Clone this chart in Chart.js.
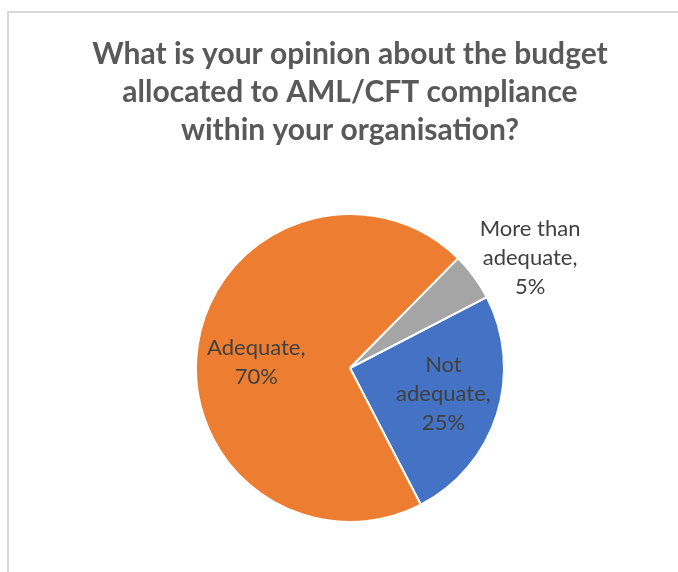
<!DOCTYPE html>
<html>
<head>
<meta charset="utf-8">
<script src="https://cdn.jsdelivr.net/npm/chart.js@4"></script>
<style>
  html, body { margin: 0; padding: 0; background: #fff; }
  #wrap { position: relative; width: 678px; height: 572px; overflow: hidden; }
  #frame { position: absolute; left: 7px; top: 11px; width: 700px; height: 600px;
           border-left: 2px solid #d9d9d9; border-top: 2px solid #d9d9d9; }
  canvas { position: absolute; left: 0; top: 0; }
</style>
</head>
<body>
<div id="wrap">
  <div id="frame"></div>
  <canvas id="c" width="678" height="572"></canvas>
</div>
<script>
// Survey answers, in drawing order (clockwise from the first slice)
const categories = ['Not adequate', 'Adequate', 'More than adequate'];
const shares = [25, 70, 5];
const sliceColors = ['#4472C4', '#ED7D31', '#A5A5A5'];
const labelLines = [['Not', 'adequate,'], ['Adequate,'], ['More than', 'adequate,']];
const chartTitle = ['What is your opinion about the budget',
                    'allocated to AML/CFT compliance',
                    'within your organisation?'];

// radial position of each label as a fraction of the radius, plus a small angular shift (deg)
const labelPlacement = [
  { r: 0.63, shift: -2 },
  { r: 0.61, shift: -5 },
  { r: 1.37, shift: 5 }
];

// three-line heading centred over the chart
const headingBlock = {
  id: 'headingBlock',
  afterDraw(chart) {
    const ctx = chart.ctx;
    ctx.save();
    ctx.font = 'bold 30px Lato, "Open Sans", sans-serif';
    ctx.fillStyle = '#595959';
    ctx.textAlign = 'center';
    ctx.textBaseline = 'middle';
    chartTitle.forEach((t, k) => ctx.fillText(t, 350, 54 + k * 38));
    ctx.restore();
  }
};

const sliceLabels = {
  id: 'sliceLabels',
  afterDatasetsDraw(chart) {
    const ctx = chart.ctx;
    const meta = chart.getDatasetMeta(0);
    const ds = chart.data.datasets[0];
    ctx.save();
    ctx.font = '22px Lato, "Open Sans", sans-serif';
    ctx.fillStyle = '#404040';
    ctx.textAlign = 'center';
    ctx.textBaseline = 'middle';
    const lh = 29;
    meta.data.forEach((arc, i) => {
      const p = arc.getProps(['x', 'y', 'startAngle', 'endAngle', 'outerRadius'], true);
      const mid = (p.startAngle + p.endAngle) / 2 + labelPlacement[i].shift * Math.PI / 180;
      const rr = p.outerRadius * labelPlacement[i].r;
      const cx = p.x + Math.cos(mid) * rr;
      const cy = p.y + Math.sin(mid) * rr;
      const lines = labelLines[i].concat([ds.data[i] + '%']);
      const y0 = cy - (lines.length - 1) * lh / 2;
      lines.forEach((t, k) => ctx.fillText(t, cx, y0 + k * lh));
    });
    ctx.restore();
  }
};

new Chart(document.getElementById('c'), {
  type: 'pie',
  data: {
    labels: categories,
    datasets: [{
      data: shares,
      backgroundColor: sliceColors,
      borderColor: '#ffffff',
      borderWidth: 2
    }]
  },
  options: {
    responsive: false,
    animation: false,
    rotation: 62.6,
    layout: { padding: { left: 195, right: 173, top: 213, bottom: 49 } },
    plugins: {
      legend: { display: false },
      tooltip: { enabled: false },
      title: { display: false }
    }
  },
  plugins: [sliceLabels, headingBlock]
});
</script>
</body>
</html>
